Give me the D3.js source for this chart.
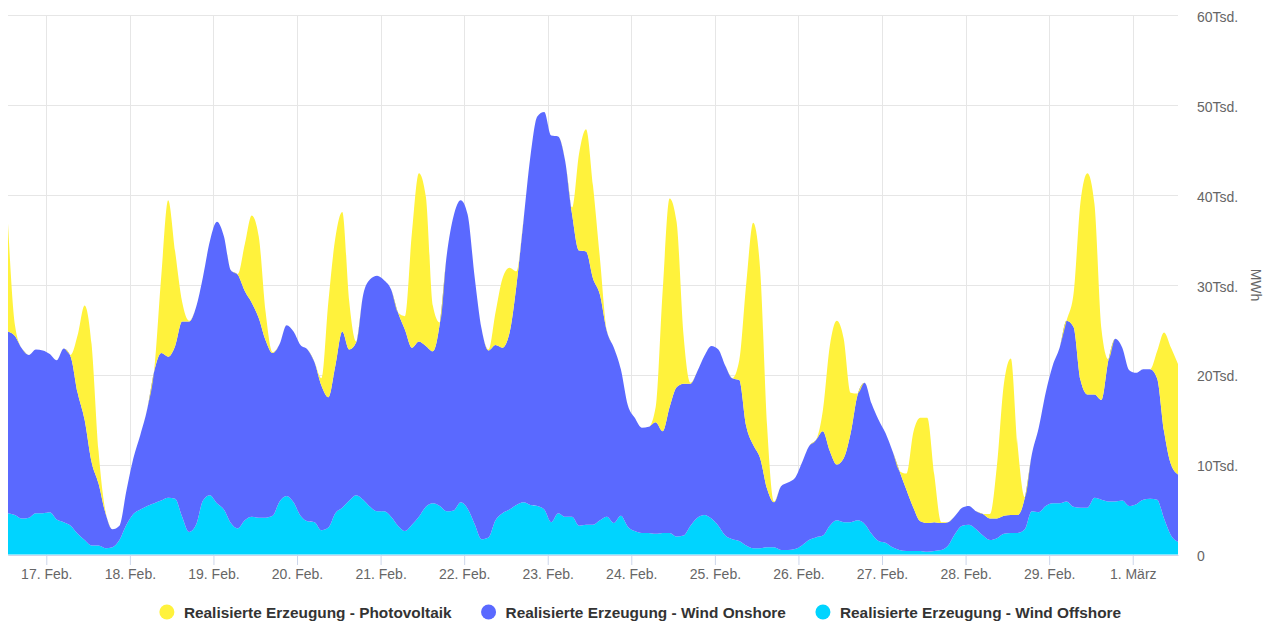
<!DOCTYPE html>
<html lang="de">
<head>
<meta charset="utf-8">
<title>Realisierte Erzeugung</title>
<script src="https://cdn.jsdelivr.net/npm/d3@7"></script>
<style>
  html, body { margin: 0; padding: 0; background: #fff; }
  svg { display: block; font-family: "Liberation Sans", Arial, Helvetica, sans-serif; }
</style>
</head>
<body>
<svg id="chart" width="1271" height="621"></svg>
<script>
// values every 2 hours in Tsd. MWh, first value 16 Feb 2024 13:00 (UTC), one row = one day from 13:00
const startTime = Date.UTC(2024, 1, 16, 13);
const stepHours = 2;

const windOffshore = [
  4.6, 4.4, 4.0, 4.1, 4.6, 4.6, 4.7, 3.9, 3.6, 3.2, 2.3, 1.6,
  1.0, 1.0, 0.7, 0.8, 1.6, 3.3, 4.5, 5.0, 5.4, 5.7, 6.0, 6.3,
  6.2, 4.2, 2.5, 3.3, 6.0, 6.6, 5.7, 5.0, 3.5, 2.9, 3.8, 4.2,
  4.1, 4.1, 4.3, 5.9, 6.5, 5.8, 4.3, 3.7, 3.6, 2.7, 3.0, 4.6,
  5.2, 6.0, 6.6, 6.1, 5.3, 4.8, 4.8, 4.2, 3.2, 2.6, 3.3, 4.2,
  5.3, 5.7, 5.4, 4.8, 4.9, 5.8, 5.1, 3.4, 1.7, 1.9, 3.8, 4.6,
  5.0, 5.5, 5.8, 5.5, 5.4, 5.0, 3.6, 4.6, 4.2, 4.2, 3.2, 3.3,
  3.3, 3.8, 4.2, 3.5, 4.3, 3.1, 2.6, 2.4, 2.4, 2.3, 2.4, 2.4,
  2.0, 2.1, 3.2, 4.1, 4.4, 4.0, 3.2, 2.1, 1.7, 1.5, 1.0, 0.7,
  0.7, 0.8, 0.8, 0.5, 0.5, 0.6, 1.0, 1.6, 1.9, 2.1, 3.2, 3.8,
  3.6, 3.6, 3.8, 3.4, 2.3, 1.5, 1.3, 0.8, 0.5, 0.4, 0.4, 0.4,
  0.3, 0.4, 0.5, 1.0, 2.3, 3.2, 3.3, 2.8, 2.1, 1.6, 1.8, 2.3,
  2.4, 2.4, 2.8, 4.8, 4.7, 5.4, 5.7, 5.7, 5.9, 5.3, 5.2, 5.2,
  6.3, 6.1, 5.9, 5.9, 6.0, 5.4, 5.6, 6.1, 6.2, 6.1, 4.0, 2.1,
  1.4
];

const windOnshore = [
  20.2, 19.9, 18.9, 18.1, 18.2, 18.1, 17.6, 17.7, 19.3, 18.8, 15.7, 13.4,
  9.3, 6.9, 3.9, 2.0, 1.6, 3.8, 6.2, 8.3, 10.8, 14.7, 16.4, 15.7,
  17.0, 21.7, 23.4, 24.2, 24.9, 28.3, 31.3, 30.4, 28.1, 28.2, 25.5, 23.8,
  22.2, 19.7, 18.1, 17.5, 19.0, 19.0, 19.0, 19.1, 17.8, 16.1, 14.5, 16.4,
  19.6, 16.8, 17.0, 22.8, 25.3, 26.2, 25.7, 25.3, 23.7, 22.4, 19.7, 19.5,
  17.9, 16.9, 20.3, 28.5, 32.8, 33.6, 32.7, 27.5, 23.4, 20.8, 19.5, 18.4,
  19.6, 24.4, 31.2, 38.7, 43.3, 44.2, 43.0, 41.9, 39.6, 33.6, 30.6, 30.4,
  27.4, 25.1, 20.6, 19.5, 16.3, 13.5, 12.6, 11.7, 11.8, 12.4, 11.3, 14.0,
  16.6, 16.9, 15.8, 16.3, 17.7, 19.2, 19.6, 18.9, 17.9, 17.9, 13.3, 11.5,
  10.0, 6.5, 5.0, 7.1, 7.5, 7.9, 9.2, 10.4, 10.8, 11.6, 8.3, 6.2,
  7.1, 9.9, 14.0, 15.7, 14.5, 13.5, 12.2, 10.7, 8.8, 6.8, 4.8, 3.3,
  3.2, 3.2, 3.0, 2.6, 2.0, 2.0, 2.1, 2.0, 2.4, 2.4, 2.2, 2.0,
  2.0, 2.0, 3.5, 6.3, 9.4, 12.6, 15.3, 17.3, 20.1, 20.0, 14.2, 12.6,
  11.5, 11.1, 15.7, 18.1, 17.0, 15.1, 14.6, 14.5, 14.4, 13.5, 9.7, 7.9,
  7.5
];

const photovoltaik = [
  12.0, 1.2, 0, 0, 0, 0, 0, 0, 0, 0.2, 6.4, 12.7,
  13.1, 3.6, 0.2, 0, 0, 0, 0, 0, 0, 0.2, 8.5, 17.4,
  10.5, 2.2, 0.1, 0, 0, 0, 0, 0, 0, 0.1, 5.2, 9.7,
  9.1, 3.1, 0.1, 0, 0, 0, 0, 0, 0, 0.8, 10.6, 14.2,
  13.3, 5.3, 0.1, 0, 0, 0, 0, 0, 0, 1.5, 12.8, 18.7,
  16.6, 5.1, 0.1, 0, 0, 0, 0, 0, 0, 0.1, 3.6, 7.7,
  7.3, 1.6, 0.1, 0, 0, 0, 0, 0, 0, 0.8, 10.8, 13.6,
  10.3, 4.0, 0.1, 0, 0, 0, 0, 0, 0, 1.7, 15.6, 23.2,
  18.4, 5.4, 0.1, 0, 0, 0, 0, 0, 0, 2.2, 15.8, 24.7,
  21.0, 7.0, 0.1, 0, 0, 0, 0, 0, 0, 2.3, 11.7, 16.0,
  13.3, 4.5, 0.1, 0, 0, 0, 0, 0, 0, 1.8, 8.4, 11.5,
  11.7, 5.3, 0.1, 0, 0, 0, 0, 0, 0, 0.5, 5.9, 14.7,
  17.4, 7.5, 0.1, 0, 0, 0, 0, 0, 0, 3.7, 19.8, 24.6,
  21.2, 7.9, 0.1, 0, 0, 0, 0, 0, 0, 3.0, 11.0, 13.0,
  12.3
];

const yTicks = [0, 10, 20, 30, 40, 50, 60];
const seriesKeys = ['offshore', 'onshore', 'pv'];            // stack order, bottom first
const legendKeys = ['pv', 'onshore', 'offshore'];
const seriesNames = {
  pv: 'Realisierte Erzeugung - Photovoltaik',
  onshore: 'Realisierte Erzeugung - Wind Onshore',
  offshore: 'Realisierte Erzeugung - Wind Offshore'
};
const seriesColors = { pv: '#fff23c', onshore: '#5a69ff', offshore: '#00d4ff' };

const de = d3.timeFormatLocale({
  dateTime: '%A, %e. %B %Y, %X', date: '%d.%m.%Y', time: '%H:%M:%S',
  periods: ['AM', 'PM'],
  days: ['Sonntag', 'Montag', 'Dienstag', 'Mittwoch', 'Donnerstag', 'Freitag', 'Samstag'],
  shortDays: ['So', 'Mo', 'Di', 'Mi', 'Do', 'Fr', 'Sa'],
  months: ['Januar', 'Februar', 'März', 'April', 'Mai', 'Juni', 'Juli', 'August', 'September', 'Oktober', 'November', 'Dezember'],
  shortMonths: ['Jan.', 'Feb.', 'März', 'Apr.', 'Mai', 'Juni', 'Juli', 'Aug.', 'Sept.', 'Okt.', 'Nov.', 'Dez.']
});

const rows = windOffshore.map((v, i) => ({
  date: new Date(startTime + i * stepHours * 3600e3),
  offshore: v,
  onshore: windOnshore[i],
  pv: photovoltaik[i]
}));

const plot = { left: 8, right: 1178, top: 15, bottom: 554.5 };

const svg = d3.select('#chart');

const x = d3.scaleUtc()
  .domain(d3.extent(rows, d => d.date))
  .range([plot.left, plot.right]);

const y = d3.scaleLinear()
  .domain([0, 60])
  .range([plot.bottom, plot.top]);

const dayTicks = x.ticks(d3.utcDay.every(1));

// grid
svg.append('g')
  .selectAll('line')
  .data(yTicks)
  .join('line')
    .attr('x1', plot.left).attr('x2', plot.right)
    .attr('y1', d => Math.round(y(d)) + 0.5).attr('y2', d => Math.round(y(d)) + 0.5)
    .attr('stroke', '#e6e6e6');

svg.append('g')
  .selectAll('line')
  .data(dayTicks)
  .join('line')
    .attr('x1', d => Math.round(x(d)) + 0.5).attr('x2', d => Math.round(x(d)) + 0.5)
    .attr('y1', plot.top).attr('y2', plot.bottom)
    .attr('stroke', '#e6e6e6');

// stacked areas
const stacked = d3.stack().keys(seriesKeys)(rows);

const area = d3.area()
  .x(d => x(d.data.date))
  .y0(d => y(d[0]))
  .y1(d => y(d[1]))
  .curve(d3.curveMonotoneX);

svg.append('g')
  .selectAll('path')
  .data(stacked)
  .join('path')
    .attr('fill', d => seriesColors[d.key])
    .attr('d', area);

// x axis
const xAxis = svg.append('g')
  .attr('transform', `translate(0,${plot.bottom + 0.5})`)
  .call(d3.axisBottom(x)
    .ticks(d3.utcDay.every(1))
    .tickFormat(de.utcFormat('%-d. %b'))
    .tickSize(10)
    .tickSizeOuter(0)
    .tickPadding(4));

xAxis.select('.domain').attr('stroke', '#ccd6eb');
xAxis.selectAll('.tick line').attr('stroke', '#ccd6eb');
xAxis.selectAll('.tick text')
  .attr('fill', '#666')
  .attr('font-size', 14)
  .attr('font-family', null);

// y axis on the right
const yAxis = svg.append('g')
  .attr('transform', `translate(${plot.right},0)`)
  .call(d3.axisRight(y)
    .tickValues(yTicks)
    .tickFormat(d => d === 0 ? '0' : d + 'Tsd.')
    .tickSize(0)
    .tickPadding(19));

yAxis.select('.domain').remove();
yAxis.selectAll('.tick text')
  .attr('fill', '#666')
  .attr('font-size', 14)
  .attr('dy', '0.45em')
  .attr('font-family', null);

svg.append('text')
  .attr('transform', 'translate(1251,285) rotate(90)')
  .attr('text-anchor', 'middle')
  .attr('fill', '#666')
  .attr('font-size', 14)
  .text('MWh');

// legend, centred under the chart
const legend = svg.append('g');
const items = legend.selectAll('g')
  .data(legendKeys)
  .join('g');

items.append('circle')
  .attr('cx', 8)
  .attr('cy', 612)
  .attr('r', 7.5)
  .attr('fill', d => seriesColors[d]);

items.append('text')
  .attr('x', 25)
  .attr('y', 618)
  .attr('fill', '#333')
  .attr('font-size', 15.4)
  .attr('font-weight', 'bold')
  .text(d => seriesNames[d]);

const gap = 29;
const widths = [];
items.each(function () {
  widths.push(25 + d3.select(this).select('text').node().getComputedTextLength());
});
const total = d3.sum(widths) + gap * (widths.length - 1);
let pos = 640 - total / 2;
items.attr('transform', (d, i) => {
  const t = `translate(${pos},0)`;
  pos += widths[i] + gap;
  return t;
});
</script>
</body>
</html>
